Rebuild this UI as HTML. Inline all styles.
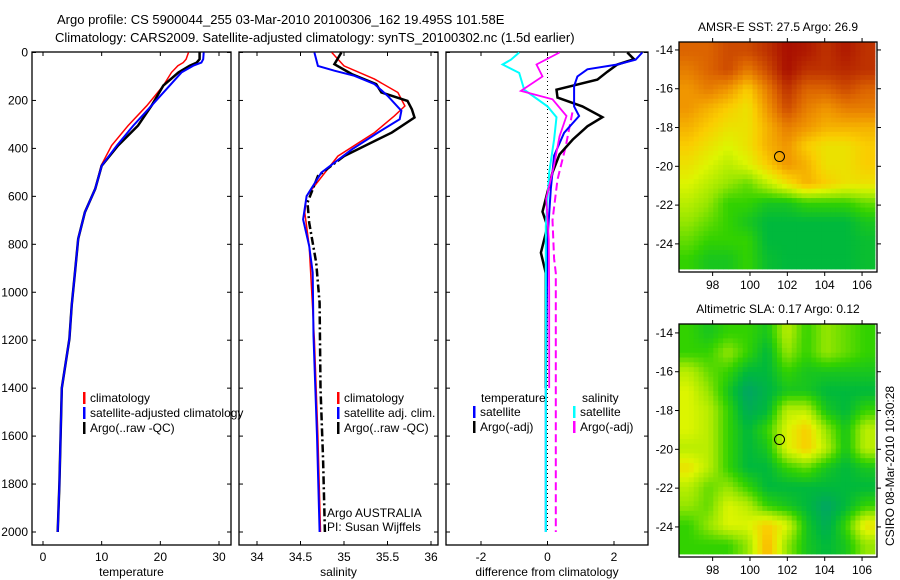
<!DOCTYPE html>
<html><head><meta charset="utf-8"><style>
body{margin:0;background:#fff;}
svg{display:block;font-family:"Liberation Sans",sans-serif;}
text{font-size:12px;fill:#000;}
</style></head><body>
<svg id="fig" width="900" height="580" viewBox="0 0 900 580">
<text x="57" y="24" style="font-size:13px">Argo profile: CS 5900044_255 03-Mar-2010 20100306_162 19.495S 101.58E</text>
<text x="55" y="42" style="font-size:13px">Climatology: CARS2009. Satellite-adjusted climatology: synTS_20100302.nc (1.5d earlier)</text>
<g id="p1"></g>
<g id="p2"></g>
<g id="p3"></g>
<g id="m1"></g>
<g id="m2"></g>
<text transform="translate(894,546) rotate(-90)">CSIRO 08-Mar-2010 10:30:28</text>
</svg>
<script>
// ---- data ----
const tDepth = [0,28,42,55,83,138,222,305,388,472,569,666,777,916,1055,1194,1400,1600,1800,2000];
const tClim  = [24.8,24.4,23.9,23.0,21.9,20.5,17.7,14.5,11.7,9.9,8.9,7.15,6.0,5.45,4.9,4.5,3.2,3.0,2.8,2.5];
const tSat   = [27.4,27.3,27.0,25.6,23.6,21.6,18.5,15.4,12.6,10.0,8.9,7.15,6.0,5.45,4.9,4.5,3.2,3.0,2.8,2.5];
const tArgo  = [26.7,26.7,26.2,25.0,23.1,20.5,18.5,16.2,12.8,10.0,8.9,7.15,6.0,5.45,4.9,4.5,3.2,3.0,2.8,2.5];
const sDepthClim = [0,56,111,167,223,264,334,432,501,599,668,807,1200,1600,2000];
const sClim  = [34.86,35.0,35.35,35.62,35.7,35.58,35.35,34.93,34.78,34.57,34.55,34.6,34.66,34.70,34.73];
const sDepthSat = [0,56,76,97,132,180,243,278,334,404,501,599,696,807,918,1183,1600,2000];
const sSat   = [34.66,34.70,34.89,35.12,35.35,35.5,35.66,35.64,35.39,35.09,34.74,34.57,34.53,34.6,34.64,34.65,34.69,34.72];
const sDepthArgo = [0,49,90,132,167,202,237,271,334,432,515,626,710,877,1044,1400,1700,2000];
const sArgo  = [34.97,34.89,35.09,35.37,35.43,35.73,35.78,35.81,35.55,35.0,34.7,34.58,34.6,34.68,34.72,34.73,34.76,34.78];
const dDepthArgoT = [0,28,50,80,113,155,188,225,270,308,363,425,500,664,725,835,920,1170,1400];
const dArgoT = [2.4,2.6,2.1,1.8,1.5,0.27,0.3,1.05,1.65,1.2,0.76,0.36,0.15,-0.15,0,-0.2,-0.05,-0.05,-0.05];
const dDepthSatT = [0,30,50,70,100,140,225,265,335,430,570,780,1400,2000];
const dSatT = [2.85,2.65,2.1,1.2,0.9,0.8,0.8,0.95,0.5,0.2,0.1,0,-0.05,-0.05];
const dDepthSatS = [0,30,50,85,155,225,270,363,500,725,1400,2000];
const dSatS = [-0.85,-1.1,-1.35,-0.85,-0.7,0,0.27,0.2,0.05,-0.05,-0.05,-0.05];
const dDepthArgoS = [0,50,100,160,195,265,350,470,610,780,1000,1400];
const dArgoS = [0.36,-0.33,-0.15,-0.8,0.15,0.57,0.36,0.2,-0.04,0.04,0.05,0.05];
const dDepthArgoSadj = [250,390,530,700,860,920,1400,2000];
const dArgoSadj = [0.75,0.55,0.3,0.15,0.2,0.25,0.25,0.25];
const depthTicks = [0,200,400,600,800,1000,1200,1400,1600,1800,2000];
const tTicks = [0,10,20,30];
const sTicks = [34,34.5,35,35.5,36];
const dTicks = [-2,0,2];
const lonTicks = [98,100,102,104,106];
const latTicks = [-14,-16,-18,-20,-22,-24];
const sstGrid = [
[.8,.8,.85,.85,.9,.97,.95,.9,.95,.9],
[.75,.8,.85,.75,.85,.97,.9,.9,.92,.9],
[.7,.75,.7,.6,.75,.9,.8,.8,.85,.8],
[.7,.65,.6,.55,.7,.85,.75,.7,.75,.75],
[.65,.6,.55,.55,.65,.75,.7,.65,.65,.65],
[.6,.55,.5,.55,.65,.7,.6,.55,.55,.6],
[.55,.5,.45,.5,.6,.7,.65,.55,.55,.6],
[.5,.45,.4,.35,.45,.55,.65,.6,.55,.55],
[.45,.4,.3,.3,.25,.25,.3,.3,.3,.35],
[.4,.35,.3,.25,.2,.2,.2,.2,.2,.25],
[.35,.3,.3,.3,.2,.2,.2,.2,.2,.22],
[.3,.25,.25,.3,.22,.2,.2,.2,.2,.22]];
const slaGrid = [
[.3,.25,.3,.3,.25,.45,.3,.4,.35,.3],
[.3,.3,.4,.3,.2,.4,.3,.4,.35,.3],
[.45,.35,.3,.2,.2,.3,.25,.25,.25,.25],
[.5,.4,.25,.12,.18,.25,.25,.2,.2,.2],
[.5,.45,.3,.15,.2,.45,.45,.25,.2,.3],
[.5,.45,.3,.2,.3,.5,.6,.4,.25,.45],
[.45,.45,.3,.2,.25,.5,.6,.45,.25,.45],
[.55,.45,.3,.2,.2,.3,.35,.25,.2,.25],
[.45,.35,.4,.3,.2,.2,.2,.2,.2,.2],
[.4,.35,.5,.45,.3,.25,.2,.12,.2,.3],
[.3,.4,.5,.5,.6,.5,.25,.15,.3,.55],
[.3,.3,.3,.4,.65,.4,.25,.2,.25,.4]];
const argoLon = 101.58, argoLat = -19.495;

// ---- helpers ----
const NS="http://www.w3.org/2000/svg";
function mk(p,tag,at){const e=document.createElementNS(NS,tag);for(const k in at)e.setAttribute(k,at[k]);p.appendChild(e);return e;}
function lin(d0,d1,r0,r1){return v=>r0+(v-d0)*(r1-r0)/(d1-d0);}
const yD = lin(0,2000,52.5,532);

function panel(g,x0,x1,xs,ticks,xlabel,labelDx){
  const f=mk(g,'rect',{x:x0,y:52,width:x1-x0,height:493,fill:'none',stroke:'#000','stroke-width':1.3});
  
  depthTicks.forEach(d=>{const y=yD(d);
    mk(g,'line',{x1:x0,x2:x0+4,y1:y,y2:y,stroke:'#000'});mk(g,'line',{x1:x1,x2:x1-4,y1:y,y2:y,stroke:'#000'});
    if(g.id==='p1'){const t=mk(g,'text',{x:x0-4,y:y+4,'text-anchor':'end'});t.textContent=d;
      }
  });
  ticks.forEach(v=>{const x=xs(v);
    mk(g,'line',{x1:x,x2:x,y1:52,y2:56,stroke:'#000'});mk(g,'line',{x1:x,x2:x,y1:545,y2:541,stroke:'#000'});
    const t=mk(g,'text',{x:x,y:561,'text-anchor':'middle'});t.textContent=v;
    });
  const t=mk(g,'text',{x:(x0+x1)/2,y:576,'text-anchor':'middle'});t.textContent=xlabel;
  
}
function line(g,xs,vals,deps,color,w,dash,name){
  const pts=vals.map((v,i)=>xs(v).toFixed(1)+','+yD(deps[i]).toFixed(1)).join(' ');
  const p=mk(g,'polyline',{points:pts,fill:'none',stroke:color,'stroke-width':w});
  if(dash)p.setAttribute('stroke-dasharray',dash);
  
  
}
function legend(g,x,y,items){
  items.forEach((it,i)=>{const yy=y+i*15;
    mk(g,'rect',{x:x,y:yy-10,width:2.5,height:12,fill:it[1]});
    const t=mk(g,'text',{x:x+7,y:yy});t.textContent=it[0];
    });
}

// Panel 1
const p1=document.getElementById('p1');
const xT=lin(0,30,43,219);
panel(p1,32,231,xT,tTicks,'temperature');
line(p1,xT,tClim,tDepth,'#ff0000',1.5,null,'temperature-climatology-line');
line(p1,xT,tArgo,tDepth,'#000',2.5,null,'temperature-argo-line');
line(p1,xT,tSat,tDepth,'#0000ff',2,null,'temperature-satellite-line');
legend(p1,83,402,[['climatology','#f00'],['satellite-adjusted climatology','#00f'],['Argo(..raw -QC)','#000']]);
// Panel 2
const p2=document.getElementById('p2');
const xS=lin(34,36,257,431);
panel(p2,239,438,xS,sTicks,'salinity');
line(p2,xS,sClim,sDepthClim,'#ff0000',1.5,null,'salinity-climatology-line');
line(p2,xS,sArgo.slice(0,10),sDepthArgo.slice(0,10),'#000',2.5,null,'salinity-argo-line');
line(p2,xS,sArgo.slice(9),sDepthArgo.slice(9),'#000',2.5,'8 3 2 3','salinity-argo-adjusted-line');
line(p2,xS,sSat,sDepthSat,'#0000ff',2,null,'salinity-satellite-line');
legend(p2,337,402,[['climatology','#f00'],['satellite adj. clim.','#00f'],['Argo(..raw -QC)','#000']]);
let t=mk(p2,'text',{x:327,y:517});t.textContent='Argo AUSTRALIA';

t=mk(p2,'text',{x:327,y:531});t.textContent='PI: Susan Wijffels';

// Panel 3
const p3=document.getElementById('p3');
const xDf=lin(-2,2,481,614);
panel(p3,446,648,xDf,dTicks,'difference from climatology');
mk(p3,'line',{x1:xDf(0),x2:xDf(0),y1:53,y2:530,stroke:'#000','stroke-dasharray':'1 3'});
line(p3,xDf,dArgoSadj,dDepthArgoSadj,'#ff00ff',2,'8 4','salinity-argo-adjusted-diff-line');
line(p3,xDf,dArgoT,dDepthArgoT,'#000',2.5,null,'temperature-argo-diff-line');
line(p3,xDf,dSatT,dDepthSatT,'#0000ff',2,null,'temperature-satellite-diff-line');
line(p3,xDf,dSatS,dDepthSatS,'#00ffff',2,null,'salinity-satellite-diff-line');
line(p3,xDf,dArgoS,dDepthArgoS,'#ff00ff',1.8,null,'salinity-argo-diff-line');
t=mk(p3,'text',{x:481,y:402});t.textContent='temperature';

t=mk(p3,'text',{x:582,y:402});t.textContent='salinity';

legend(p3,473,416,[['satellite','#00f'],['Argo(-adj)','#000']]);
legend(p3,573,416,[['satellite','#0ff'],['Argo(-adj)','#f0f']]);

// Maps
const stops=[[0.1,[0,160,110]],[0.2,[0,185,60]],[0.3,[50,210,0]],[0.4,[150,230,0]],[0.5,[220,245,0]],[0.6,[250,205,0]],[0.7,[240,150,0]],[0.8,[220,100,0]],[0.9,[190,50,0]],[1.0,[160,0,0]]];
function cmap(v){v=Math.max(0.1,Math.min(1,v));
  for(let i=0;i<stops.length-1;i++){const a=stops[i],b=stops[i+1];
    if(v<=b[0]){const f=(v-a[0])/(b[0]-a[0]);return 'rgb('+a[1].map((c,k)=>Math.round(c+f*(b[1][k]-c))).join(',')+')';}}
  return 'rgb(160,0,0)';}
function map(g,top,bot,grid,title,latTop,latBot){
  const xL=lin(96.2,106.8,679,877), yL=lin(latTop,latBot,top,bot);
  const rows=grid.length, cols=grid[0].length;
  const sub=4; // bilinear upsampling for smoothness
  const cw=(875-679)/(cols*sub), ch=(bot-3-top)/(rows*sub);
  for(let r=0;r<rows*sub;r++)for(let c=0;c<cols*sub;c++){
    const fr=Math.min(rows-1,Math.max(0,(r+0.5)/sub-0.5)), fc=Math.min(cols-1,Math.max(0,(c+0.5)/sub-0.5));
    const r0=Math.floor(fr),c0=Math.floor(fc),r1=Math.min(rows-1,r0+1),c1=Math.min(cols-1,c0+1);
    const a=fr-r0,b=fc-c0;
    const v=grid[r0][c0]*(1-a)*(1-b)+grid[r0][c1]*(1-a)*b+grid[r1][c0]*a*(1-b)+grid[r1][c1]*a*b;
    const cell=mk(g,'rect',{x:(679+c*cw).toFixed(2),y:(top+r*ch).toFixed(2),width:(cw+0.4).toFixed(2),height:(ch+0.4).toFixed(2),fill:cmap(v)});
    
    
  }
  const f=mk(g,'rect',{x:679,y:top,width:198,height:bot-top,fill:'none',stroke:'#000','stroke-width':1.3});
  
  lonTicks.forEach(v=>{const x=xL(v);
    mk(g,'line',{x1:x,x2:x,y1:top,y2:top-4,stroke:'#000'});mk(g,'line',{x1:x,x2:x,y1:bot,y2:bot+4,stroke:'#000'});
    const tt=mk(g,'text',{x:x,y:bot+17,'text-anchor':'middle'});tt.textContent=v;
    });
  latTicks.forEach(v=>{const y=yL(v);
    mk(g,'line',{x1:679,x2:675,y1:y,y2:y,stroke:'#000'});mk(g,'line',{x1:877,x2:881,y1:y,y2:y,stroke:'#000'});
    const tt=mk(g,'text',{x:673,y:y+4,'text-anchor':'end'});tt.textContent=v;
    });
  const c=mk(g,'circle',{cx:xL(argoLon),cy:yL(argoLat),r:5,fill:'none',stroke:'#000','stroke-width':1});
  
  const tt=mk(g,'text',{x:778,y:top-11,'text-anchor':'middle'});tt.textContent=title;
  
}
map(document.getElementById('m1'),42,272,sstGrid,'AMSR-E SST: 27.5 Argo: 26.9',-13.59,-25.45);
map(document.getElementById('m2'),324,557,slaGrid,'Altimetric SLA: 0.17 Argo: 0.12',-13.54,-25.55);
</script>
</body></html>
